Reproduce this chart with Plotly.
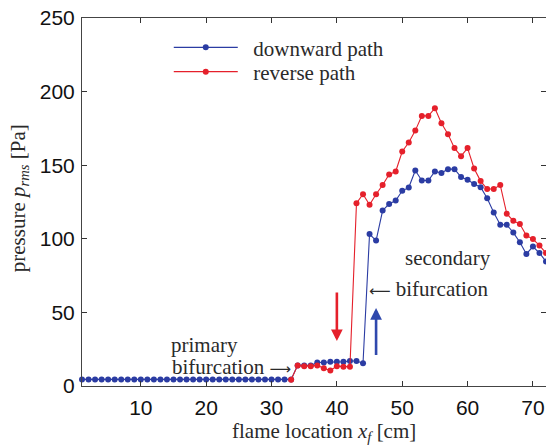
import plotly.graph_objects as go

# ---------------- data ----------------
flame_cm_down = [1, 2, 3, 4, 5, 6, 7, 8, 9, 10, 11, 12, 13, 14, 15, 16, 17, 18,
                 19, 20, 21, 22, 23, 24, 25, 26, 27, 28, 29, 30, 31, 32, 33, 34,
                 35, 36, 37, 38, 39, 40, 41, 42, 43, 44, 45, 46, 47, 48, 49, 50,
                 51, 52, 53, 54, 55, 56, 57, 58, 59, 60, 61, 62, 63, 64, 65, 66,
                 67, 68, 69, 70, 71, 72]
p_down = [4.5, 4.5, 4.5, 4.5, 4.5, 4.5, 4.5, 4.5, 4.5, 4.5, 4.5, 4.5, 4.5, 4.5,
          4.5, 4.5, 4.5, 4.5, 4.5, 4.5, 4.5, 4.5, 4.5, 4.5, 4.5, 4.5, 4.5, 4.5,
          4.5, 4.5, 4.5, 4.5, 4.5,
          14, 14, 14, 16, 16, 16.5, 16.5, 16.5, 17, 17, 15.5,
          103.2, 98.8, 119.2, 123.7, 126, 132.6, 134.8, 146.4, 139.6, 139.6,
          145.8, 144.7, 147.3, 147.3, 141.9, 140.1, 137.2, 135.1, 127.6, 117.8,
          109.5, 109.5, 104.2, 97.7, 89.7, 94.7, 90.3, 84.6]

flame_cm_rev = [33, 34, 35, 36, 37, 38, 39, 40, 41, 42, 43, 44, 45, 46, 47, 48,
                49, 50, 51, 52, 53, 54, 55, 56, 57, 58, 59, 60, 61, 62, 63, 64,
                65, 66, 67, 68, 69, 70, 71, 72]
p_rev = [4.3, 14, 13.5, 13.5, 14, 12, 10.5, 13.5, 13, 13,
         124.2, 130.3, 123.1, 130.3, 136.5, 143.7, 145.7, 159.3, 165.4, 173.5,
         183.5, 183.5, 188.7, 178.5, 171.1, 161.6, 156.1, 161.6, 147.8, 139.2,
         133.8, 133.8, 136.5, 117, 112.2, 110, 102.2, 99.8, 95.5, 90.3]

x_ticks = [10, 20, 30, 40, 50, 60, 70]
y_ticks = [0, 50, 100, 150, 200, 250]
series_names = ["downward path", "reverse path"]

# ---------------- styling ----------------
BLUE = "#2b3ca3"
RED = "#e5202b"
SERIF = "Liberation Serif, Times New Roman, serif"
SANS = "Liberation Sans, Arial, sans-serif"
TXT = "#2a2a2a"
ARROW_R = '<span style="font-family:DejaVu Sans;font-size:15px">\u27f6</span>'
ARROW_L = '<span style="font-family:DejaVu Sans;font-size:15px">\u27f5</span>'

fig = go.Figure()
fig.add_trace(go.Scatter(
    x=flame_cm_down, y=p_down, mode="lines+markers",
    name="\u00a0\u00a0" + series_names[0], legend="legend",
    line=dict(color=BLUE, width=1.1),
    marker=dict(color=BLUE, size=6),
    cliponaxis=False))
fig.add_trace(go.Scatter(
    x=flame_cm_rev, y=p_rev, mode="lines+markers",
    name="\u00a0\u00a0" + series_names[1], legend="legend2",
    line=dict(color=RED, width=1.1),
    marker=dict(color=RED, size=6),
    cliponaxis=False))

axis_common = dict(
    ticks="inside", ticklen=5, tickwidth=1, tickcolor="#333",
    showline=True, linecolor="#444", linewidth=1, mirror="allticks",
    showgrid=False, zeroline=False,
    tickfont=dict(family=SANS, size=21, color="#111"),
)

legend_common = dict(xanchor="left", yanchor="top", bgcolor="rgba(0,0,0,0)",
                     itemwidth=64, font=dict(family=SERIF, size=21, color=TXT))

fig.update_layout(
    width=546, height=447,
    margin=dict(l=82, r=0, t=18, b=61),
    paper_bgcolor="white", plot_bgcolor="white",
    xaxis=dict(range=[1, 72], tickmode="array", tickvals=x_ticks,
               ticklabelstandoff=3, **axis_common),
    yaxis=dict(range=[0, 250], tickmode="array", tickvals=y_ticks,
               ticklabelstandoff=2, **axis_common),
    showlegend=True,
    legend=dict(x=0.187, y=0.975, **legend_common),
    legend2=dict(x=0.187, y=0.909, **legend_common),
)

ann = []
# axis titles
ann.append(dict(text="flame location <i>x<sub>f</sub></i> [cm]",
                xref="paper", yref="paper", x=0.521, y=-0.126,
                xanchor="center", yanchor="middle", showarrow=False,
                font=dict(family=SERIF, size=21, color=TXT)))
ann.append(dict(text="pressure <i>p<sub>rms</sub></i> [Pa]",
                xref="paper", yref="paper", x=-0.136, y=0.51,
                xanchor="center", yanchor="middle", textangle=-90,
                showarrow=False,
                font=dict(family=SERIF, size=21, color=TXT)))
# text labels
for t, xx, yy, xa in [("primary", 14.3, 28, "left"),
                      ("bifurcation " + ARROW_R, 14.5, 12.9, "left"),
                      ("secondary", 57.05, 87, "center"),
                      (ARROW_L + " bifurcation", 54.0, 66, "center")]:
    ann.append(dict(text=t, x=xx, y=yy, xref="x", yref="y",
                    xanchor=xa, yanchor="middle", showarrow=False,
                    font=dict(family=SERIF, size=21, color=TXT)))
# arrows
ann.append(dict(text="", x=40, y=30.5, ax=40, ay=64.5, xref="x", yref="y",
                axref="x", ayref="y", showarrow=True, arrowhead=2,
                arrowwidth=2.6, arrowsize=0.9, arrowcolor=RED))
ann.append(dict(text="", x=46, y=53, ax=46, ay=20, xref="x", yref="y",
                axref="x", ayref="y", showarrow=True, arrowhead=2,
                arrowwidth=2.6, arrowsize=0.9, arrowcolor="#2f48ad"))
fig.update_layout(annotations=ann)

fig.write_html("out.html", config={"displayModeBar": False},
               post_script="document.body.style.margin='0px';")
